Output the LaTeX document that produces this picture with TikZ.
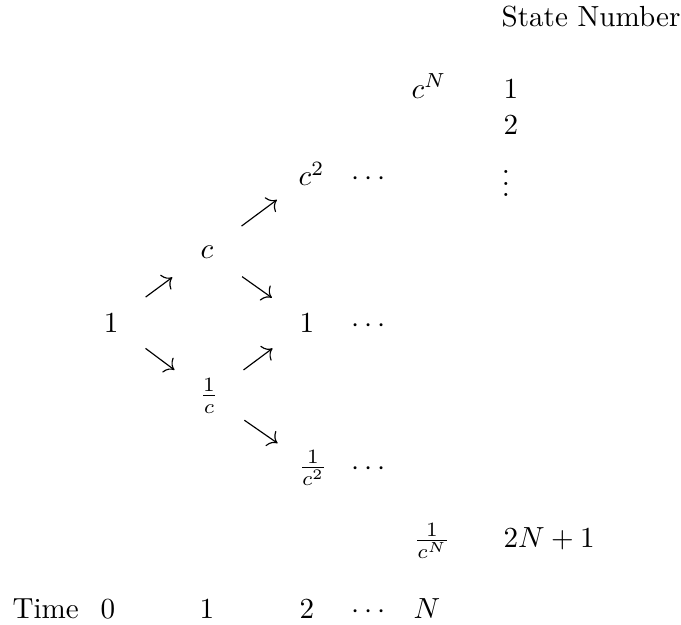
\documentclass[tikz,border=0pt]{standalone}
\usepackage{amsmath}
\usetikzlibrary{arrows.meta}

\begin{document}
\begin{tikzpicture}[
    every node/.style={inner sep=0pt},
    val/.style={anchor=base},
    lbl/.style={anchor=base west},
    move/.style={-{To[length=3pt]}, shorten <=0.52cm, shorten >=0.52cm}
  ]
  \useasboundingbox (0,0) rectangle (8.225,-7.548);

  % State numbers
  \node[anchor=base east] (head) at (8.225,-0.326) {State Number};
  \node[lbl] (s1) at (6.075,-1.184) {$1$};
  \node[lbl] (s2) at (6.075,-1.630) {$2$};
  \node (sdots) at (6.111,-2.114) {$\vdots$};
  \node[lbl] (slast) at (6.075,-6.618) {$2N+1$};

  % Lattice values
  \node[val] (n0) at (1.341,-4.010) {$1$};
  \node[val] (u1) at (2.500,-3.116) {$c$};
  \node[val] (d1) at (2.524,-4.867) {$\frac{1}{c}$};
  \node[val] (u2) at (3.762,-2.246) {$c^2$};
  \node[val] (m2) at (3.708,-4.010) {$1$};
  \node[val] (d2) at (3.780,-5.737) {$\frac{1}{c^2}$};
  \node[val] (uN) at (5.181,-1.184) {$c^N$};
  \node[val] (dN) at (5.217,-6.618) {$\frac{1}{c^N}$};

  % continuation dots
  \foreach \n/\y in {u/-2.246, m/-4.010, d/-5.737} {
    \node[val] (\n dots) at (4.481,\y) {$\cdots$};
  }

  % Up and down moves
  \draw[move] (n0.center) -- (u1.center);
  \draw[move] (n0.center) -- (d1.center);
  \draw[move] (u1.center) -- (u2.center);
  \draw[move] (u1.center) -- (m2.center);
  \draw[move] (d1.center) -- (m2.center);
  \draw[move] (d1.center) -- (d2.center);

  % Time axis
  \node[lbl] (time) at (0.145,-7.476) {Time};
  \foreach \n/\x/\t in {0/1.304/0, 1/2.500/1, 2/3.708/2, dots/4.481/\cdots, N/5.157/N} {
    \node[val] (t\n) at (\x,-7.476) {$\t$};
  }
\end{tikzpicture}
\end{document}
